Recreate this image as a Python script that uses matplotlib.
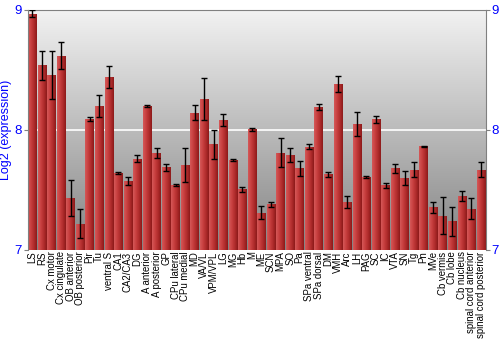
import numpy as np
import matplotlib
matplotlib.use("Agg")
from matplotlib import pyplot as plt
from matplotlib.colors import LinearSegmentedColormap

regions = [
    "LS", "RS", "Cx motor", "Cx cingulate", "OB anterior", "OB posterior",
    "Pir", "Tu", "ventral S", "CA1", "CA2/CA3", "DG", "A anterior",
    "A posterior", "GP", "CPu lateral", "CPu medial", "MD", "VA/VL",
    "VPM/VPL", "LG", "MG", "Hb", "M", "ME", "SCN", "MPA", "SO", "Pa",
    "SPa ventral", "SPa dorsal", "DM", "VMH", "Arc", "LH", "PAG", "SC", "IC",
    "VTA", "SN", "Tg", "Pn", "MVe", "Cb vermis", "Cb lobe", "Cb nucleus",
    "spinal cord anterior", "spinal cord posterior",
]
expression = [
    8.97, 8.54, 8.46, 8.62, 7.43, 7.22,
    8.09, 8.20, 8.44, 7.64, 7.575, 7.76, 8.20,
    7.81, 7.69, 7.54, 7.71, 8.145, 8.255,
    7.88, 8.08, 7.75, 7.505, 8.005, 7.31, 7.38, 7.81, 7.79, 7.68,
    7.86, 8.19, 7.63, 8.385, 7.40, 8.05, 7.61, 8.09, 7.54,
    7.68, 7.60, 7.67, 7.865, 7.355, 7.285, 7.24, 7.45,
    7.345, 7.67,
]
errors = [
    0.03, 0.12, 0.20, 0.11, 0.15, 0.12,
    0.015, 0.09, 0.09, 0.01, 0.03, 0.03, 0.01,
    0.04, 0.03, 0.01, 0.14, 0.065, 0.175,
    0.12, 0.05, 0.01, 0.02, 0.01, 0.055, 0.02, 0.12, 0.06, 0.065,
    0.02, 0.025, 0.02, 0.065, 0.05, 0.10, 0.01, 0.03, 0.02,
    0.04, 0.06, 0.06, 0.005, 0.045, 0.155, 0.12, 0.045,
    0.085, 0.065,
]

blue = "#0000ff"
plt.rcParams["font.family"] = ["Liberation Sans", "DejaVu Sans"]

fig = plt.figure(figsize=(5, 3.5), dpi=100)
axis = fig.add_axes([27.7 / 500, 100 / 350, 458 / 500, 240 / 350])

x_vals = np.arange(len(regions))
xmin, xmax = -0.5, len(regions) - 0.5
ymin, ymax = 7, 9

# gray vertical gradient background
bg_cmap = LinearSegmentedColormap.from_list("bg", ["#f2f2f2", "#848484"])
axis.imshow(
    np.linspace(0, 1, 256).reshape(-1, 1),
    extent=[xmin, xmax, ymin, ymax],
    aspect="auto",
    cmap=bg_cmap,
    origin="upper",
    zorder=0,
)
axis.axhline(8, color="white", lw=1.2, zorder=1)

# bars with a horizontal shading
bar_cmap = LinearSegmentedColormap.from_list(
    "bar", ["#d45858", "#c84040", "#b02c2c", "#8c1a1a"]
)
bars = axis.bar(
    x_vals,
    np.array(expression) - ymin,
    bottom=ymin,
    width=0.9,
    color="#b83434",
    edgecolor="none",
    zorder=2,
)
shade = np.linspace(0, 1, 64).reshape(1, -1)
for rect in bars:
    x0 = rect.get_x()
    img = axis.imshow(
        shade,
        extent=[x0, x0 + rect.get_width(), ymin, rect.get_y() + rect.get_height()],
        aspect="auto",
        cmap=bar_cmap,
        zorder=2.5,
    )
    img.set_clip_path(rect)

axis.errorbar(
    x_vals,
    expression,
    yerr=errors,
    fmt="none",
    ecolor="black",
    elinewidth=1,
    capsize=2.2,
    capthick=1,
    zorder=3,
)

axis.set_xlim(xmin, xmax)
axis.set_ylim(ymin, ymax)
axis.set_yticks([7, 8, 9])
axis.set_xticks(x_vals)
axis.set_xticklabels(regions, rotation=90, fontsize=6.9)
axis.tick_params(axis="x", length=0, pad=1)
axis.tick_params(
    axis="y",
    colors="#808080",
    labelcolor=blue,
    labelsize=9.5,
    length=3,
    pad=1,
    right=True,
    labelright=True,
)
for side in ["left", "right", "top"]:
    axis.spines[side].set_color("#808080")
axis.spines["bottom"].set_visible(False)
axis.set_ylabel("Log2 (expression)", color=blue, fontsize=9, labelpad=2)

fig.savefig("out.png", dpi=100)
